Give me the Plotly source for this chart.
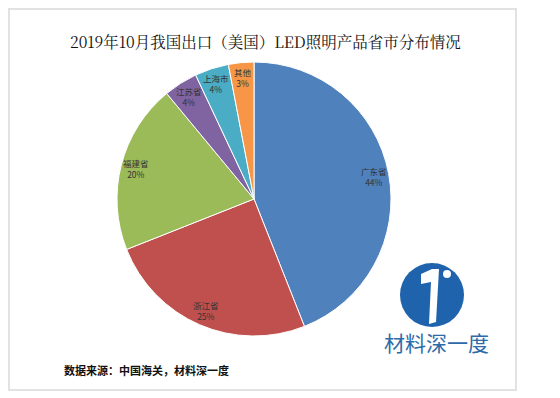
import math
import plotly.graph_objects as go

labels = ["广东省", "浙江省", "福建省", "江苏省", "上海市", "其他"]
values = [44, 25, 20, 4, 4, 3]
colors = ["#4F81BD", "#C0504D", "#9BBB59", "#8064A2", "#4BACC6", "#F79646"]

# the page body has an 8px margin, so the figure fills the remaining window
OFF = 8
W, H = 560 - OFF, 398 - OFF


def X(x):
    return (x - OFF) / W


def Y(y):
    return 1 - (y - OFF) / H


cx, cy, R = 254, 199, 137  # reference pixel center / radius

fig = go.Figure(go.Pie(
    labels=labels, values=values, sort=False, direction="clockwise", rotation=0,
    marker=dict(colors=colors, line=dict(color="white", width=1)),
    textinfo="none", hoverinfo="label+percent", showlegend=False,
    domain=dict(x=[X(cx - R), X(cx + R)], y=[Y(cy + R), Y(cy - R)]),
))

# labels inside slices, placed from data
total = sum(values)
cum = 0
for lab, v in zip(labels, values):
    mid = (cum + v / 2) / total * 2 * math.pi
    cum += v
    r = 0.89 * R
    px = cx + r * math.sin(mid)
    py = cy - r * math.cos(mid)
    fig.add_annotation(x=X(px), y=Y(py), xref="paper", yref="paper",
                       xanchor="center", yanchor="middle",
                       text=f"{lab}<br>{round(v / total * 100)}%", showarrow=False,
                       font=dict(size=8.5, color="#333333", family="Noto Sans CJK SC"),
                       align="center")

fig.add_annotation(x=X(265), y=Y(41), xref="paper", yref="paper",
                   xanchor="center", yanchor="middle",
                   text="2019年10月我国出口（美国）LED照明产品省市分布情况", showarrow=False,
                   font=dict(size=15.5, color="#111111", family="Noto Serif CJK SC, serif"))
fig.add_annotation(x=X(62), y=Y(370), xref="paper", yref="paper",
                   xanchor="left", yanchor="middle",
                   text="<b>数据来源：中国海关，材料深一度</b>", showarrow=False,
                   font=dict(size=11, color="#111111", family="Noto Sans CJK SC"))
fig.add_annotation(x=X(436), y=Y(342), xref="paper", yref="paper",
                   xanchor="center", yanchor="middle",
                   text="材料深一度", showarrow=False,
                   font=dict(size=21, color="#2d6aa8", family="Noto Sans CJK SC"))

# frame
fig.add_shape(type="rect", xref="paper", yref="paper",
              x0=X(9), x1=X(516), y0=Y(390), y1=Y(9),
              line=dict(color="#e2e2e2", width=2), layer="below")
# logo
lx, ly, lr = 432, 295, 32
fig.add_shape(type="circle", xref="paper", yref="paper",
              x0=X(lx - lr), x1=X(lx + lr), y0=Y(ly + lr), y1=Y(ly - lr),
              fillcolor="#1f63ad", line=dict(width=0))


def P(x, y):
    return f"{X(x):.4f},{Y(y):.4f}"


path = ("M " + P(421, 274) + " L " + P(432, 269) + " L " + P(439, 269) +
        " L " + P(436, 322) + " L " + P(429, 324) + " L " + P(431, 282) + " L " + P(421, 284) + " Z")
fig.add_shape(type="path", xref="paper", yref="paper", path=path,
              fillcolor="white", line=dict(width=0))
fig.add_shape(type="circle", xref="paper", yref="paper",
              x0=X(443), x1=X(451), y0=Y(278), y1=Y(270),
              fillcolor="white", line=dict(width=0))

fig.update_layout(width=W, height=H, margin=dict(l=0, r=0, t=0, b=0),
                  paper_bgcolor="white", plot_bgcolor="white")
fig.write_html("out.html")
